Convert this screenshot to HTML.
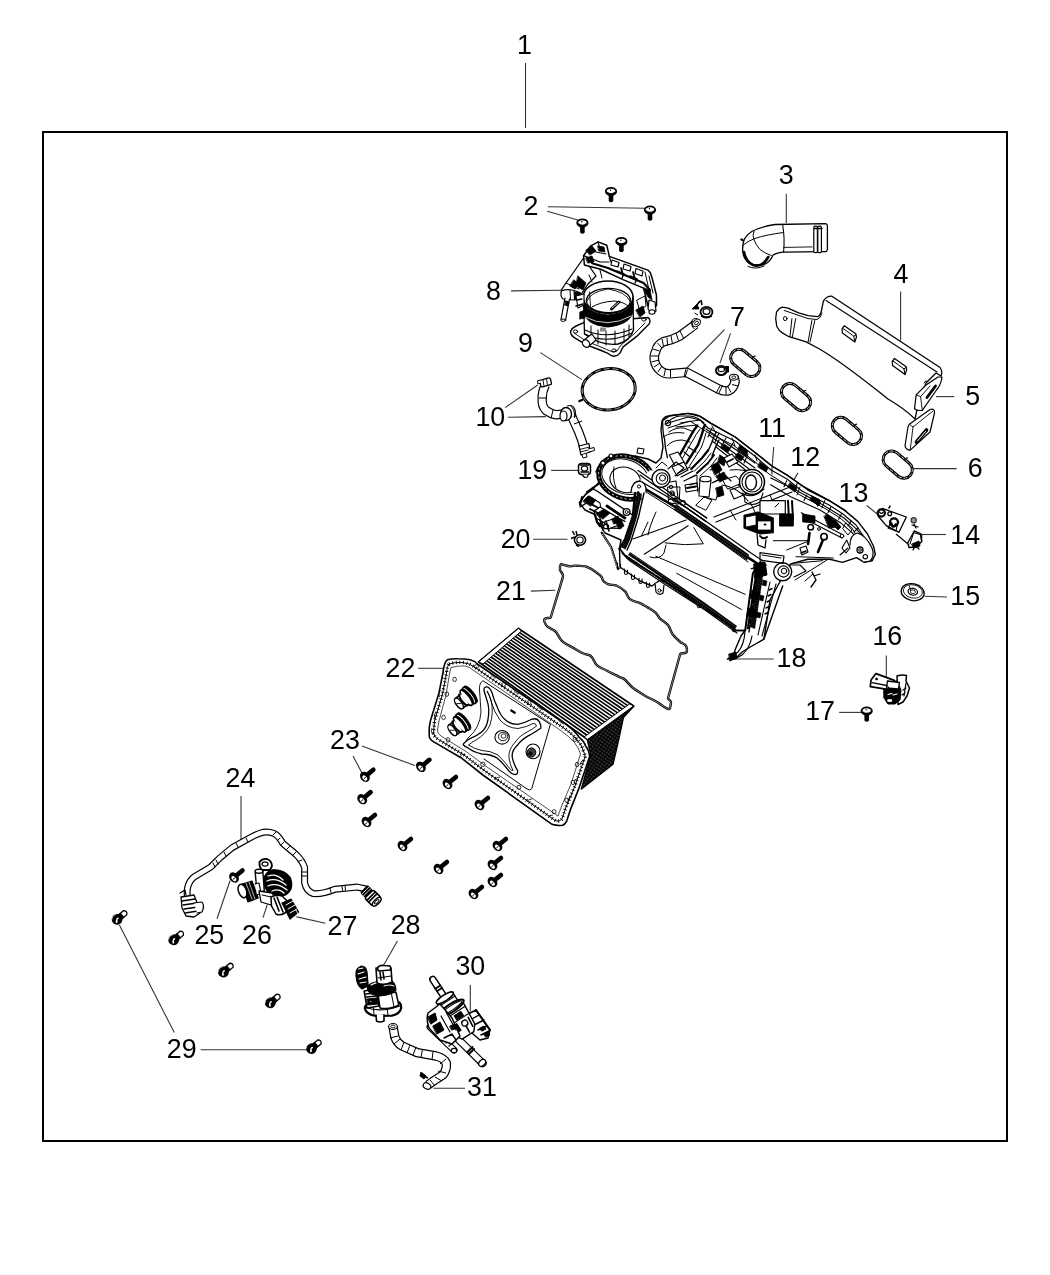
<!DOCTYPE html>
<html><head><meta charset="utf-8"><title>Intake Manifold Diagram</title>
<style>
html,body{margin:0;padding:0;background:#fff;}
body{width:1050px;height:1275px;overflow:hidden;}
svg{display:block;}
g.lbl{filter:grayscale(1);}
text{font-family:"Liberation Sans",sans-serif;font-size:26.8px;fill:#000;}
</style></head><body>
<svg width="1050" height="1275" viewBox="0 0 1050 1275">
<rect x="0" y="0" width="1050" height="1275" fill="#fff"/>
<rect x="43" y="132" width="964" height="1009" fill="none" stroke="#000" stroke-width="2"/>

<g stroke="#333" stroke-width="1.1" fill="none">
<line x1="525.5" y1="63" x2="525.5" y2="128"/>
<line x1="548" y1="206.8" x2="645.6" y2="208.3"/>
<line x1="547.3" y1="211.2" x2="577.8" y2="220"/>
<line x1="786.3" y1="193.8" x2="786.3" y2="222.9"/>
<line x1="900.6" y1="291.4" x2="900.6" y2="340.6"/>
<line x1="936" y1="396.6" x2="954.3" y2="396.6"/>
<line x1="913.1" y1="468.6" x2="956.6" y2="468.6"/>
<line x1="724.5" y1="329.6" x2="686.4" y2="368.5"/>
<line x1="730.6" y1="333.4" x2="719.9" y2="363.1"/>
<line x1="511.1" y1="290.9" x2="561.4" y2="290.3"/>
<line x1="540.4" y1="352.6" x2="581.9" y2="379.6"/>
<line x1="505.2" y1="407.6" x2="537.7" y2="385"/>
<line x1="507.9" y1="417.2" x2="545.8" y2="416.6"/>
<line x1="773.7" y1="447" x2="772.1" y2="468"/>
<line x1="798" y1="472.9" x2="780.2" y2="503.6"/>
<line x1="866.7" y1="505.5" x2="877.5" y2="514.3"/>
<line x1="920.6" y1="534.5" x2="946" y2="534.5"/>
<line x1="924.5" y1="596.3" x2="947" y2="597"/>
<line x1="886.3" y1="655.5" x2="886.3" y2="678"/>
<line x1="839.2" y1="712.4" x2="862.7" y2="712.4"/>
<line x1="728.4" y1="659" x2="773.7" y2="659"/>
<line x1="551.2" y1="470.4" x2="578.3" y2="470.4"/>
<line x1="533.2" y1="539.3" x2="567.5" y2="539.3"/>
<line x1="530.9" y1="591.1" x2="555.3" y2="590.2"/>
<line x1="418.1" y1="668.3" x2="445.5" y2="668.3"/>
<line x1="362" y1="746" x2="415" y2="765.6"/>
<line x1="353" y1="756" x2="362" y2="773"/>
<line x1="241" y1="796" x2="241" y2="840"/>
<line x1="217" y1="918.8" x2="230.1" y2="880.5"/>
<line x1="263" y1="917.7" x2="267.3" y2="904.6"/>
<line x1="325.4" y1="923.2" x2="295.8" y2="916.6"/>
<line x1="397.4" y1="941.1" x2="383.7" y2="965.1"/>
<line x1="200.6" y1="1049.7" x2="306.9" y2="1049.7"/>
<line x1="174.3" y1="1032.6" x2="119.4" y2="925.1"/>
<line x1="470.3" y1="984.9" x2="470.3" y2="1011.4"/>
<line x1="465.1" y1="1088.2" x2="433.4" y2="1088.2"/>
</g>
<g class="lbl" text-anchor="middle">
<text x="524.5" y="54">1</text>
<text x="531" y="215.4">2</text>
<text x="786.3" y="184">3</text>
<text x="901" y="283.4">4</text>
<text x="972.6" y="404.6">5</text>
<text x="975.3" y="476.6">6</text>
<text x="737.4" y="325.8">7</text>
<text x="493.4" y="299.7">8</text>
<text x="525.5" y="351.7">9</text>
<text x="490.3" y="425.6">10</text>
<text x="772.1" y="437.2">11</text>
<text x="805.2" y="466.4">12</text>
<text x="853.5" y="501.6">13</text>
<text x="965.2" y="543.7">14</text>
<text x="965.2" y="604.5">15</text>
<text x="887.3" y="644.7">16</text>
<text x="820.1" y="720.2">17</text>
<text x="791.5" y="667.2">18</text>
<text x="532.3" y="478.9">19</text>
<text x="515.6" y="547.5">20</text>
<text x="511" y="600.3">21</text>
<text x="400.5" y="676.5">22</text>
<text x="345" y="749">23</text>
<text x="240.5" y="787.4">24</text>
<text x="209.3" y="944">25</text>
<text x="256.9" y="944">26</text>
<text x="342.4" y="935.2">27</text>
<text x="405.6" y="934.3">28</text>
<text x="181.7" y="1057.7">29</text>
<text x="470.3" y="975.4">30</text>
<text x="481.9" y="1096.3">31</text>
</g>
<defs>
 <g id="scrV">
  <path d="M-2.3,2 L-2.3,9.5 Q0,12 2.3,9.5 L2.3,2 Z" fill="#000"/>
  <ellipse cx="0" cy="0" rx="5.2" ry="3.6" fill="#fff" stroke="#000" stroke-width="1.8"/>
  <path d="M-4.6,0.8 Q0,4.6 4.6,0.8" fill="none" stroke="#000" stroke-width="1.6"/>
  <circle cx="-0.5" cy="-1.2" r="0.7" fill="#000"/>
 </g>
 <g id="b23">
  <line x1="3" y1="0" x2="11" y2="0" stroke="#000" stroke-width="4.6" stroke-linecap="round"/>
  <ellipse cx="0" cy="0" rx="4.4" ry="5.6" fill="#000"/>
  <ellipse cx="-0.8" cy="0.8" rx="1.9" ry="3" fill="#fff"/>
  <line x1="-2.2" y1="0.8" x2="0.6" y2="0.8" stroke="#000" stroke-width="0.9"/>
 </g>
 <g id="b29">
  <path d="M3,-2.6 L10.5,-2.6 Q13.5,0 10.5,2.6 L3,2.6 Z" fill="#fff" stroke="#000" stroke-width="1.3"/>
  <path d="M3,-3 L7,-3 L7,3 L3,3 Z" fill="#000"/>
  <circle cx="0" cy="0" r="5.4" fill="#000"/>
  <ellipse cx="-1.6" cy="1.2" rx="0.9" ry="2" transform="rotate(40 -1.6 1.2)" fill="#fff"/>
  <ellipse cx="0.8" cy="-0.4" rx="1.4" ry="0.8" fill="#fff"/>
  <path d="M-3.8,-3.2 A5,5 0 0 1 2.5,-4.4" stroke="#fff" stroke-width="0.6" fill="none"/>
 </g>
 <g id="ring6">
  <rect x="-16.5" y="-8.5" width="33" height="17" rx="8.5" ry="8.5" fill="none" stroke="#000" stroke-width="3"/>
  <rect x="-16.5" y="-8.5" width="33" height="17" rx="8.5" ry="8.5" fill="none" stroke="#fff" stroke-width="0.7" stroke-dasharray="4 1.5"/>
  <path d="M2,-10 l1.5,-1.8" stroke="#000" stroke-width="1.2"/>
 </g>
</defs>
<!-- screws 2 -->
<use href="#scrV" x="611" y="191.4"/>
<use href="#scrV" x="650" y="210"/>
<use href="#scrV" x="582.4" y="222.9"/>
<use href="#scrV" x="621.4" y="241.4"/>
<!-- screw 17 -->
<use href="#scrV" x="866.7" y="711"/>
<!-- bolts 23 -->
<g>
<use href="#b23" transform="translate(364.9,776.8) rotate(-40)"/>
<use href="#b23" transform="translate(420.9,766.9) rotate(-40)"/>
<use href="#b23" transform="translate(362.2,799.2) rotate(-40)"/>
<use href="#b23" transform="translate(447.5,784) rotate(-40)"/>
<use href="#b23" transform="translate(366.5,822) rotate(-40)"/>
<use href="#b23" transform="translate(479.5,805) rotate(-40)"/>
<use href="#b23" transform="translate(402.5,846) rotate(-40)"/>
<use href="#b23" transform="translate(497.5,846) rotate(-40)"/>
<use href="#b23" transform="translate(438.5,869) rotate(-40)"/>
<use href="#b23" transform="translate(492.5,865) rotate(-40)"/>
<use href="#b23" transform="translate(492.5,882) rotate(-40)"/>
<use href="#b23" transform="translate(473.5,894) rotate(-40)"/>
</g>
<!-- bolts 29 -->
<use href="#b29" transform="translate(117.1,919.4) rotate(-40)"/>
<use href="#b29" transform="translate(173.7,939.9) rotate(-40)"/>
<use href="#b29" transform="translate(223.4,972) rotate(-40)"/>
<use href="#b29" transform="translate(270.3,1002.9) rotate(-40)"/>
<use href="#b29" transform="translate(311.4,1048.6) rotate(-40)"/>
<!-- rings 6 -->
<use href="#ring6" transform="translate(745.3,362.9) rotate(40)"/>
<use href="#ring6" transform="translate(796,397.1) rotate(40)"/>
<use href="#ring6" transform="translate(846.9,430.9) rotate(40)"/>
<use href="#ring6" transform="translate(897.7,464.6) rotate(40)"/>
<!-- gasket 9 -->
<g transform="translate(608.7,389.3) rotate(-6)">
 <ellipse cx="0" cy="0" rx="26.6" ry="20.6" fill="none" stroke="#000" stroke-width="3"/>
 <ellipse cx="0" cy="0" rx="26.6" ry="20.6" fill="none" stroke="#fff" stroke-width="0.6" stroke-dasharray="6 3"/>
</g>
<path d="M578.5,401.5 l4.5,-2" stroke="#000" stroke-width="2"/>
<!-- washer 15 -->
<g transform="translate(912.7,592.2) rotate(12)">
 <ellipse rx="11.6" ry="8.4" fill="#fff" stroke="#000" stroke-width="1.3"/>
 <ellipse cx="0" cy="-0.8" rx="9.6" ry="6.6" fill="none" stroke="#000" stroke-width="0.8"/>
 <ellipse cx="0" cy="-0.5" rx="4.8" ry="3.4" fill="none" stroke="#000" stroke-width="1.2"/>
 <ellipse cx="0" cy="-0.5" rx="2.6" ry="1.8" fill="none" stroke="#000" stroke-width="0.8"/>
 <path d="M-5,-6 L-2,-1" stroke="#000" stroke-width="0.8"/>
</g>
<!-- gasket 21 -->
<path d="M561.3,564.1 C565,565 567,566.6 570.5,566.4 C573,565.5 574,565.5 576.6,565.7 C580,566 582,565.8 585.7,566.4 C589,568 590.5,568.5 593.3,570.2 C597,573 599,574 601,576.3 C603,579 602.5,580.5 604,581.7 C606,583.5 608,584.5 610.1,584.7 C613,585 614,584.8 616.2,585.5 C620,587 623,589 625.3,591.6 C627.5,594.5 627.5,597.5 629.9,599.2 C632,601 635,601.5 637.5,602.2 C641,603.5 643.5,605 646.7,606.8 C650,609 653,610.5 655.8,612.9 C658,615 658.5,617.5 660.4,619 C663,621 666,622.5 668,625.1 C670.5,628.5 670.5,631.5 672.6,634.2 C675,637.5 678,640 680.2,641.9 C682.5,643.5 685.5,644 686.3,646.4 C687,649 687.5,651.5 686.3,652.5 C684.5,654 681.5,652.5 680.2,654 L668,698.2 C668.5,700 671.5,701 671,702.8 C670.5,705 670.5,708.5 669.5,708.9 C667.5,709.5 666.5,708 665,707.4 C662,705.5 659,703 655.8,701.3 C652.5,699.5 650,698.5 646.7,696.7 C642,694 638.5,691.5 634.5,689.1 C630.5,686.5 628,682.5 625.3,680 C623,678 621.5,678 619.2,676.9 C615,674.5 611,673 607,670.8 C603,668.5 599,667.5 596.4,664.7 C593.5,661.5 593.5,657.5 590.3,655.6 C587.5,654 585,654.5 582.7,653.3 C578.5,651 574.5,648.5 570.5,646.4 C567,644.5 563.5,643 561.3,640.3 C558.5,637 558,633.5 555.2,631.2 C552,628.5 548,628 546.1,625.1 C544.5,622.5 544,619.8 544.6,619 C545.5,617.5 549,618.5 550.7,617.5 L561.3,582.4 C562,579.5 563.5,577 562.9,574.8 C562,572 559.5,571 559.8,568.7 C560,566.5 560,564.5 561.3,564.1 Z" fill="none" stroke="#000" stroke-width="2.4"/>
<path d="M561.3,564.1 C565,565 567,566.6 570.5,566.4 C573,565.5 574,565.5 576.6,565.7 C580,566 582,565.8 585.7,566.4 C589,568 590.5,568.5 593.3,570.2 C597,573 599,574 601,576.3 C603,579 602.5,580.5 604,581.7 C606,583.5 608,584.5 610.1,584.7 C613,585 614,584.8 616.2,585.5 C620,587 623,589 625.3,591.6 C627.5,594.5 627.5,597.5 629.9,599.2 C632,601 635,601.5 637.5,602.2 C641,603.5 643.5,605 646.7,606.8 C650,609 653,610.5 655.8,612.9 C658,615 658.5,617.5 660.4,619 C663,621 666,622.5 668,625.1 C670.5,628.5 670.5,631.5 672.6,634.2 C675,637.5 678,640 680.2,641.9 C682.5,643.5 685.5,644 686.3,646.4 C687,649 687.5,651.5 686.3,652.5 C684.5,654 681.5,652.5 680.2,654 L668,698.2 C668.5,700 671.5,701 671,702.8 C670.5,705 670.5,708.5 669.5,708.9 C667.5,709.5 666.5,708 665,707.4 C662,705.5 659,703 655.8,701.3 C652.5,699.5 650,698.5 646.7,696.7 C642,694 638.5,691.5 634.5,689.1 C630.5,686.5 628,682.5 625.3,680 C623,678 621.5,678 619.2,676.9 C615,674.5 611,673 607,670.8 C603,668.5 599,667.5 596.4,664.7 C593.5,661.5 593.5,657.5 590.3,655.6 C587.5,654 585,654.5 582.7,653.3 C578.5,651 574.5,648.5 570.5,646.4 C567,644.5 563.5,643 561.3,640.3 C558.5,637 558,633.5 555.2,631.2 C552,628.5 548,628 546.1,625.1 C544.5,622.5 544,619.8 544.6,619 C545.5,617.5 549,618.5 550.7,617.5 L561.3,582.4 C562,579.5 563.5,577 562.9,574.8 C562,572 559.5,571 559.8,568.7 C560,566.5 560,564.5 561.3,564.1 Z" fill="none" stroke="#fff" stroke-width="0.5"/>

<!-- intercooler 22 -->
<g stroke="#000" fill="none" stroke-linejoin="round">
 <!-- mesh face -->
 <defs><pattern id="mesh" width="3" height="3" patternUnits="userSpaceOnUse" patternTransform="rotate(35)"><rect width="3" height="3" fill="#111"/><circle cx="1.5" cy="1.5" r="0.75" fill="#fff"/></pattern></defs>
 <path d="M587.3,740 L633.8,706.4 L623.5,717.6 L618.3,741.8 L613.1,764.2 L581.2,789.2 L590.7,754.7 Z" fill="url(#mesh)" stroke-width="1.2"/>
 <!-- fins top face -->
 <path d="M518.5,628.4 L633.7,705.9 L587.6,739.4 L478.7,661.9 Z" fill="#fff" stroke-width="1.8"/>
 <g stroke-width="1.6"><line x1="480.9" y1="660.0" x2="590.2" y2="737.5"/><line x1="483.1" y1="658.2" x2="592.7" y2="735.7"/><line x1="485.3" y1="656.3" x2="595.3" y2="733.8"/><line x1="487.5" y1="654.5" x2="597.8" y2="732.0"/><line x1="489.8" y1="652.6" x2="600.4" y2="730.1"/><line x1="492.0" y1="650.7" x2="603.0" y2="728.2"/><line x1="494.2" y1="648.9" x2="605.5" y2="726.4"/><line x1="496.4" y1="647.0" x2="608.1" y2="724.5"/><line x1="498.6" y1="645.1" x2="610.7" y2="722.6"/><line x1="500.8" y1="643.3" x2="613.2" y2="720.8"/><line x1="503.0" y1="641.4" x2="615.8" y2="718.9"/><line x1="505.2" y1="639.6" x2="618.3" y2="717.1"/><line x1="507.4" y1="637.7" x2="620.9" y2="715.2"/><line x1="509.7" y1="635.8" x2="623.5" y2="713.3"/><line x1="511.9" y1="634.0" x2="626.0" y2="711.5"/><line x1="514.1" y1="632.1" x2="628.6" y2="709.6"/><line x1="516.3" y1="630.3" x2="631.1" y2="707.8"/></g>
 <path d="M518.5,628.4 L478.7,661.9 L483,664 L521.5,631 Z" fill="#fff" stroke-width="1"/>
 <path d="M633.7,705.9 L587.6,739.4 L584,737 L629.5,704 Z" fill="#fff" stroke-width="1"/>
 <!-- flange outline -->
 <path d="M447.2,659.8 Q452,658.6 457.7,658.8 Q465,658.8 470.3,659.8 Q475,661 478.7,665 L566.7,724.8 Q575,731 579.2,737.3 Q584,741 585.5,745.7 Q589,750 589.7,756.2 L579.2,787.6 L570.8,808.6 L566.7,821.1 Q565,824.5 562.5,825.3 Q557,826 552,824.3 L482.9,775 L461.9,758.3 L436.8,743.6 Q431,741 429.4,737.3 Q428.5,728 430.5,720.6 L438.9,693.3 L443,672.4 Q444,662.5 447.2,659.8 Z" fill="#fff" stroke-width="1.6"/>
 <path d="M449,664 Q455,662 462,662.5 Q470,663 475,667.5 L563,727.5 Q573,734 577,740 Q582,745 583,750 Q585,754 585,757 L575,786 L566,807 L562,819 Q560,821.5 556,821 L485,771 L464,755 L438.5,739.5 Q434,737 433.5,733 L434.5,721 L442.5,694 L446.5,673 Q447,666 449,664 Z" stroke-width="3.4" stroke-dasharray="0.9 2.6"/>
 <path d="M449,664 Q455,662 462,662.5 Q470,663 475,667.5 L563,727.5 Q573,734 577,740 Q582,745 583,750 Q585,754 585,757 L575,786 L566,807 L562,819 Q560,821.5 556,821 L485,771 L464,755 L438.5,739.5 Q434,737 433.5,733 L434.5,721 L442.5,694 L446.5,673 Q447,666 449,664 Z" stroke-width="1"/>
 <path d="M451,667.5 Q458,665.5 465,666 Q470,667 473,670 L560,730 Q570,737 574,742 Q579,748 580.5,754 L571,784 L562,805 L558,816 L487,767 L466,751.5 L441,736 Q437,733.5 437.5,730 L439,721 L446,695 L449.5,674 Z" stroke-width="0.7"/>
</g>
<!-- intercooler flange details -->
<g stroke="#000" fill="none" stroke-linejoin="round">
 <!-- plate -->
 <path d="M482.9,680.7 L550.4,724.4 L531.7,788.7 Q530,791 527,789 L483.6,758.7" stroke-width="1"/>
 <path d="M482.9,680.7 Q479,683 479.5,690 L481,712 Q480,728 468,738 L463.6,745" stroke-width="0.9"/>
 <!-- star -->
 <path d="M485.4,687.1 Q489,686 491.9,692.3 Q494,700 497,706.4 Q500,715 504.7,719.3 Q510,724.5 517.6,724.4 Q525,723 531.7,719.3 Q537,717.5 539.4,721.9 Q541.5,726 540.7,728.3 Q536,731.5 530.4,734.7 Q522,739 517.6,745 Q511,751 512.4,757.9 Q514,765 517.6,770.7 Q518,774.5 515,774.6 Q511,774 508.6,770.7 Q503,763 497,757.9 Q490,754 481.6,754 Q473,752 467.4,747.6 Q462,745 463.6,743.7 Q466,740.5 470,738.6 Q477,736 481.6,732.1 Q487,727 488,719.3 Q489.5,711 488,703.9 Q486,697 484.1,691 Q483.5,687.5 485.4,687.1 Z" fill="#fff" stroke-width="1.3"/>
 <path d="M487,691 Q490,695 491,701 Q494,712 500,720 Q507,728 518,728.5 Q527,727 533,723.5 Q536,723 536.5,726 Q533,729 528,731.5 Q519,736 514.5,743 Q508,750 509,758 Q510,765 513,770.5 Q512,771 510.5,769.5 Q505,762 498,755 Q490,750.5 482,750.5 Q474,749 468.5,745 Q472,742 476,740 Q486,734 490,725 Q494,712 491,700 Z" stroke-width="0.9"/>
 <ellipse cx="502.1" cy="737.3" rx="7.2" ry="6.8" stroke-width="1.1" fill="#fff"/>
 <ellipse cx="503" cy="736.5" rx="4.6" ry="4.3" stroke-width="0.9"/>
 <ellipse cx="503.5" cy="736" rx="2.4" ry="2.2" stroke-width="0.8"/>
 <path d="M510.5,710 l5,3.2" stroke-width="2.2"/>
 <!-- right port -->
 <ellipse cx="533" cy="751.4" rx="7" ry="7.4" fill="#fff" stroke-width="1.1"/>
 <ellipse cx="531.5" cy="752.5" rx="4.3" ry="4.6" fill="#444" stroke-width="1"/>
 <circle cx="530.5" cy="753.5" r="1.6" fill="#000"/>
 <!-- holes -->
 <g stroke-width="0.8">
  <ellipse cx="454.6" cy="679.4" rx="1.8" ry="2.2"/>
  <ellipse cx="446.9" cy="694.2" rx="1.8" ry="2.2"/>
  <ellipse cx="443.6" cy="717.4" rx="1.8" ry="2.2"/>
  <ellipse cx="448.1" cy="739.9" rx="1.8" ry="2.2"/>
  <ellipse cx="482.9" cy="764.3" rx="2.2" ry="2.2"/>
  <ellipse cx="476.4" cy="666.6" rx="2" ry="2"/>
  <ellipse cx="503.4" cy="684.6" rx="2" ry="2"/>
  <ellipse cx="529.1" cy="702.6" rx="2" ry="2"/>
  <ellipse cx="518.9" cy="787.4" rx="2" ry="2"/>
  <ellipse cx="554.1" cy="811.7" rx="2" ry="2"/>
  <ellipse cx="577.1" cy="764.6" rx="1.8" ry="2.2"/>
  <ellipse cx="573" cy="782.4" rx="1.8" ry="2.2"/>
  <ellipse cx="566.7" cy="800.2" rx="1.8" ry="2.2"/>
  <ellipse cx="575" cy="739.4" rx="2" ry="2"/>
 </g>
 <!-- border bumps -->
 <g stroke-width="0.8">
  <path d="M444,672 q-3,3 -1,7 M440.5,690 q-3,3 -1,7 M436,712 q-3,3 -1,7 M432,728 q-2,4 1,7"/>
  <path d="M490,673 q2,4 6,5 M513,689 q2,4 6,5 M537,705 q2,4 6,5 M558,719 q2,4 6,5"/>
  <path d="M460,757 q1,-3 5,-3 M495,780 q1,-3 5,-3 M527,802 q1,-3 5,-3 M548,818 q1,-3 5,-3"/>
  <path d="M584,760 q-4,1 -4,5 M578,778 q-4,1 -4,5 M572,796 q-4,1 -4,5"/>
 </g>
 <!-- port 1 -->
 <g transform="translate(465.6,698.3) rotate(-38)">
  <ellipse cx="6.5" cy="0" rx="3.2" ry="10.2" fill="#000" stroke-width="1"/>
  <ellipse cx="4.6" cy="0" rx="3.2" ry="10" fill="#fff" stroke-width="1.6"/>
  <ellipse cx="2.4" cy="0" rx="3.1" ry="9.6" fill="#000" stroke-width="1"/>
  <ellipse cx="0.8" cy="0" rx="3" ry="9.3" fill="#fff" stroke-width="1.6"/>
  <path d="M-8.5,-6.3 L-1,-6.3 L-1,6.3 L-8.5,6.3 Z" fill="#fff" stroke="none"/>
  <path d="M-8.5,-6.3 L-1.5,-6.3 M-8.5,6.3 L-1.5,6.3" stroke-width="1.3"/>
  <path d="M-2,-7 A2.6,7 0 0 0 -2,7" stroke-width="2"/>
  <path d="M-4.8,-6.3 A2.4,6.3 0 0 0 -4.8,6.3" stroke-width="1.1"/>
  <ellipse cx="-8.5" cy="0" rx="2.8" ry="6.3" fill="#fff" stroke-width="1.4"/>
  <path d="M-10.5,-1.5 L-6.5,1.5" stroke-width="0.8"/>
 </g>
 <!-- port 2 -->
 <g transform="translate(459,725) rotate(-38)">
  <ellipse cx="6.5" cy="0" rx="3.2" ry="10.2" fill="#000" stroke-width="1"/>
  <ellipse cx="4.6" cy="0" rx="3.2" ry="10" fill="#fff" stroke-width="1.6"/>
  <ellipse cx="2.4" cy="0" rx="3.1" ry="9.6" fill="#000" stroke-width="1"/>
  <ellipse cx="0.8" cy="0" rx="3" ry="9.3" fill="#fff" stroke-width="1.6"/>
  <path d="M-8.5,-6.3 L-1,-6.3 L-1,6.3 L-8.5,6.3 Z" fill="#fff" stroke="none"/>
  <path d="M-8.5,-6.3 L-1.5,-6.3 M-8.5,6.3 L-1.5,6.3" stroke-width="1.3"/>
  <path d="M-2,-7 A2.6,7 0 0 0 -2,7" stroke-width="2"/>
  <path d="M-4.8,-6.3 A2.4,6.3 0 0 0 -4.8,6.3" stroke-width="1.1"/>
  <ellipse cx="-8.5" cy="0" rx="2.8" ry="6.3" fill="#fff" stroke-width="1.4"/>
  <path d="M-10.5,-1.5 L-6.5,1.5" stroke-width="0.8"/>
 </g>
</g>
<!-- hose 3 -->
<g stroke="#000" fill="none" stroke-linejoin="round" stroke-linecap="round">
 <path d="M775,224.5 L825.5,223.6 Q827.4,224 827.4,226 L827.4,249.5 Q827,251.7 825.5,251.7 L782.6,252.1 Q776,253 773.1,255 Q770,262 764.5,264.5 Q757,267 748.3,262.6 Q743,258 742.6,250 Q742.6,243 744.5,238.8 Q748,233.5 752.1,231.2 Q760,227 775,224.5 Z" fill="#fff" stroke-width="1.3"/>
 <path d="M782.6,224.5 Q785,238 783.6,252.1" stroke-width="1.1"/>
 <path d="M742.6,245.5 Q748,241 754,238.8 Q762,236 768.3,235 Q776,233.5 782.6,232.6" stroke-width="1"/>
 <path d="M754,231.2 Q752,236 754,239.8 Q756,245 759.8,249.3 Q765,253.5 771.2,255.5" stroke-width="1"/>
 <path d="M783.6,247.4 L812.1,246.9" stroke-width="0.9"/>
 <path d="M744,252 Q746,262 753,265 Q762,268 768.3,257" stroke-width="2.6"/>
 <path d="M748,266.5 Q756,270 764,266" stroke-width="1"/>
 <rect x="813.8" y="226.2" width="3.6" height="26.5" rx="1.2" fill="#fff" stroke-width="1.2"/>
 <rect x="817.8" y="226.2" width="3.6" height="26.5" rx="1.2" fill="#fff" stroke-width="1.2"/>
 <path d="M814.5,228.5 L822,228.5" stroke-width="1.6"/>
 <path d="M741.3,239.3 l1.5,1" stroke-width="2"/>
</g>
<!-- bracket 4 -->
<g stroke="#000" fill="none" stroke-linejoin="round" stroke-linecap="round">
 <path d="M782.4,307.1 Q779,308 776.5,312 L775.7,318.6 L776.7,326.2 Q779,331 782.4,332.9 L789,336.7 L806.2,341.9 L819.5,349 C845,364 870,385 888,399 C900,406 908,412 915,419 L918,405 L926,383 L936,373 L941,376 Q943,372 940,367.5 L831.9,296.2 Q826,296 823.3,301.4 L821.4,311 Q820,316 817.6,316.7 L808.1,315.7 L798.6,312.9 L788.1,308.1 Z" fill="#fff" stroke-width="1.3"/>
 <path d="M826,300.5 L937,372" stroke-width="1.1"/>
 <path d="M784.3,310.5 L808.1,318.6 L817,319.5 Q821,318 822,313" stroke-width="1"/>
 <path d="M791.9,318.6 L790,336.7 M795.7,318.6 L792.4,336.7 M811.9,320.5 L808.1,341.9 M814.8,320.5 L810,341.9" stroke-width="1"/>
 <ellipse cx="785.2" cy="318.6" rx="1.8" ry="2.1" stroke-width="1"/>
 <path d="M844.3,325.7 L855.7,333.8 L856.5,337.0 L854.8,341.9 L842.4,332.9 L842.0,329.0 Z" fill="#fff" stroke-width="1.2"/>
 <path d="M842.6,328.2 L853.8,336.2 L854.8,341.9 M853.8,336.2 L856.3,334.5" stroke-width="1"/>
 <path d="M894.5,358.4 L905.9,366.5 L906.7,369.7 L905.0,374.6 L892.6,365.6 L892.2,361.7 Z" fill="#fff" stroke-width="1.2"/>
 <path d="M892.8,360.9 L904.0,368.9 L905.0,374.6 M904.0,368.9 L906.5,367.2" stroke-width="1"/>
 <!-- upper tab -->
 <path d="M916.2,394.9 L926,385 L938,377 L942,377 Q941,385 936.5,390 L922.3,410.4 Q917,411 914.5,408.7 Z" fill="#fff" stroke-width="1.2"/>
 <path d="M916.2,394.9 L920.6,396.6 L922.3,410.4 M920.6,396.6 L930,386" stroke-width="0.9"/>
 <path d="M927,397.5 L935.5,386" stroke-width="2.8"/>
 <path d="M924,383 q1,-3 3,-2" stroke-width="1"/>
 <!-- lower tab -->
 <path d="M909.3,424.2 L930,409.5 Q935,408 934.5,413 L930,432 L910.2,450.1 Q906,450 905,445.8 L908,427 Z" fill="#fff" stroke-width="1.2"/>
 <path d="M909.3,424.2 L913,427 L933,411 M913,427 L910.2,450.1" stroke-width="0.9"/>
 <path d="M916.5,442 L926.5,430" stroke-width="3.6"/>
 <path d="M917.5,441 L925.5,431.5" stroke="#fff" stroke-width="1"/>
</g>
<!-- hose 7 -->
<g fill="none" stroke-linejoin="round" stroke-linecap="butt">
 <path id="h7" d="M695.5,324.3 Q688,330 680.3,335.7 Q672,340 663.5,341.8 Q657,345 655.9,351 Q653.5,356 654.4,360 Q655.5,367 660.5,370.8 Q664,374 669.6,373.8 L686.4,372.3 L718.4,389 Q724,392 729,390.6 Q734,388 735.1,381.4 L734,377" stroke="#000" stroke-width="9.6"/>
 <path d="M695.5,324.3 Q688,330 680.3,335.7 Q672,340 663.5,341.8 Q657,345 655.9,351 Q653.5,356 654.4,360 Q655.5,367 660.5,370.8 Q664,374 669.6,373.8 L686.4,372.3 L718.4,389 Q724,392 729,390.6 Q734,388 735.1,381.4 L734,377" stroke="#fff" stroke-width="7.2"/>
 <g stroke="#000" stroke-width="1">
  <path d="M680,331 l3.5,7 M676,333 l2.5,7.5 M671,336 l1.5,8 M667,337.5 l0.5,8 M662,339 l1.5,7.5 M657.5,343 l4.5,5 M653,349 l6.5,2 M651,356 l7.5,0 M651.5,362 l7.5,-2 M654,367 l6,-4 M658,372 l4,-6 M664,376 l1.5,-7 M670.5,377.5 l0,-8 M684,377 l2,-8.5 M685,377.5 l2.5,-8"/>
  <path d="M716,393.5 l4.5,-8.5 M718.5,394 l4,-8.5 M726,395 l0,-8.5 M731,392.5 l-3.5,-6.5 M738,386 l-6,-1.5"/>
  <path d="M698,315 l-3.5,-2 M699.5,320 a3,4 -35 1,0 -5,9" />
 </g>
 <ellipse cx="696.5" cy="323" rx="4.5" ry="3.2" transform="rotate(-40 696.5 323)" fill="#fff" stroke="#000" stroke-width="1.1"/>
 <ellipse cx="696.5" cy="323" rx="2.2" ry="1.5" transform="rotate(-40 696.5 323)" stroke="#000" stroke-width="0.9"/>
 <ellipse cx="733.8" cy="377.2" rx="4.4" ry="3" fill="#fff" stroke="#000" stroke-width="1.1"/>
 <ellipse cx="733.8" cy="377.2" rx="2" ry="1.3" stroke="#000" stroke-width="0.9"/>
</g>
<!-- clamps near hose 7 -->
<g stroke="#000" fill="#fff" stroke-linejoin="round">
 <path d="M697,305 l3,-4 M701,300 l1,5" stroke-width="1.6" fill="none"/>
 <ellipse cx="706.5" cy="312" rx="6" ry="5.2" stroke-width="1.8"/>
 <ellipse cx="706.5" cy="311.5" rx="3.4" ry="2.8" stroke-width="1.3"/>
 <path d="M692,309 l7,0 l-2,-5 z" fill="#000" stroke-width="0.8"/>
 <path d="M701,316 Q706,319.5 712,316" fill="none" stroke-width="1.4"/>
 <ellipse cx="721.3" cy="370.5" rx="5.4" ry="4.6" stroke-width="1.8"/>
 <ellipse cx="721.3" cy="369.5" rx="3.2" ry="2.2" stroke-width="1.1"/>
 <path d="M716.5,372 Q721,378 726,372" stroke-width="1.4" fill="none"/>
 <path d="M725.5,366.5 l3,0 l0,5.5 l-3,0" stroke-width="1" fill="#000"/>
</g>
<!-- hose 10 -->
<g fill="none" stroke-linejoin="round">
 <path d="M545.3,385 Q542,392 542.2,398 Q541.5,406 546,410.5 Q551.2,414 556,414.8 L563,414" stroke="#000" stroke-width="9.4"/>
 <path d="M545.3,385 Q542,392 542.2,398 Q541.5,406 546,410.5 Q551.2,414 556,414.8 L563,414" stroke="#fff" stroke-width="7"/>
 <path d="M572,417 Q575,424 578.3,431 Q582,440 583.7,447" stroke="#000" stroke-width="9.4"/>
 <path d="M572,417 Q575,424 578.3,431 Q582,440 583.7,447" stroke="#fff" stroke-width="7"/>
 <g stroke="#000" stroke-width="1">
  <path d="M553,410 l-2,8.5 M539,398 l7.5,0 M574,424 l8,-3"/>
 </g>
 <!-- top connector -->
 <rect x="540" y="379" width="11" height="7" rx="1.5" transform="rotate(-15 545 382)" fill="#fff" stroke="#000" stroke-width="1.3"/>
 <path d="M540.5,380 l-3,0.8 l0.4,3 l3,-0.5" fill="#fff" stroke="#000" stroke-width="1"/>
 <path d="M543,379.5 l1,7 M546.5,378.5 l1,7" stroke="#000" stroke-width="0.9"/>
 <!-- mid connector -->
 <ellipse cx="566" cy="414" rx="5.5" ry="6.5" fill="#fff" stroke="#000" stroke-width="1.4"/>
 <ellipse cx="563.5" cy="416" rx="3.5" ry="5" fill="#fff" stroke="#000" stroke-width="1.2"/>
 <path d="M567,406 Q573,404 575,410 L576,417" stroke="#000" stroke-width="1.2"/>
 <path d="M570.5,406 Q575,409 574.5,418" stroke="#000" stroke-width="1"/>
 <!-- bottom connector -->
 <path d="M579,446 L589,443.5 L590,452 L581,455 Z" fill="#fff" stroke="#000" stroke-width="1.2"/>
 <path d="M579.5,449.5 L589.5,447 M580,452 L590,449.5" stroke="#000" stroke-width="0.9"/>
 <path d="M588,449 l6,-1.5 l0.5,3 l-6,1.5" fill="#fff" stroke="#000" stroke-width="1"/>
 <path d="M582,455 l1,3 l4,-1 l-0.5,-3" fill="#fff" stroke="#000" stroke-width="1"/>
</g>
<!-- clamps 19, 20 -->
<g stroke="#000" fill="#fff" stroke-linejoin="round">
 <rect x="578.5" y="463.5" width="12" height="11" rx="3" stroke-width="1.5"/>
 <path d="M580,465 L589,465 M580.5,472 L589,472" stroke-width="1.5"/>
 <ellipse cx="584.5" cy="468.5" rx="3.2" ry="2.5" stroke-width="1.2"/>
 <path d="M582,474.5 l2.5,3 l3,-0.5 l0.5,-2.5" stroke-width="1.2"/>
 <ellipse cx="580" cy="540" rx="5.6" ry="5.2" stroke-width="1.6"/>
 <ellipse cx="580" cy="540" rx="3.2" ry="3" stroke-width="1.1"/>
 <path d="M574.5,535 l-2,-4 M571,538.5 l4,-1.5 M576,531 l1,4" stroke-width="1.5" fill="none"/>
 <path d="M576,545 l3,1.5" stroke-width="1.5" fill="none"/>
</g>
<!-- throttle body 8 -->
<g stroke="#000" fill="none" stroke-linejoin="round" stroke-linecap="round">
 <!-- flange -->
 <path d="M570.7,331.1 Q572,328 576,326 L583.3,322.8 L648.2,317.5 Q651,320 649.3,323.8 L636.7,336.4 L623.1,346.9 Q621,351 620,353.1 Q617,356.5 613.7,356.3 Q610,355.5 607.4,353.1 L600,350 L586.4,344.8 L573.9,337.4 Q570,334 570.7,331.1 Z" fill="#fff" stroke-width="1.4"/>
 <path d="M574,333 L586,341 L601,347 L609,350.5 Q613,353 617,351 L621,345 L634,334 L645,323" stroke-width="0.9"/>
 <ellipse cx="575.5" cy="331.5" rx="2.2" ry="1.6" stroke-width="1"/>
 <ellipse cx="614" cy="350.5" rx="2.2" ry="1.6" stroke-width="1"/>
 <ellipse cx="644" cy="319.5" rx="2.2" ry="1.6" stroke-width="1"/>
 <!-- body cylinder -->
 <path d="M583.5,297 L584.5,334 Q600,346 618,344 Q630,341 633.5,330 L633,297 Z" fill="#fff" stroke-width="1.3"/>
 <path d="M591,326 L591,340 M598,330 L598,344 M606,331 L606,345 M615,331 L615,344 M624,329 L624,341 M629,325 L629,337" stroke-width="1"/>
 <path d="M585,330 Q606,340 632,329" stroke-width="1.2"/>
 <path d="M585,334 Q606,345 632,333" stroke-width="1.2"/>
 <rect x="600" y="327.5" width="6" height="4" fill="#888" stroke="none"/>
 <!-- dark band -->
 <path d="M583.3,297 Q584,313 608,315 Q632,313 633,297 L633,309 Q633,324 608,327 Q584,325 583.6,310 Z" fill="#000" stroke-width="1"/>
 <path d="M585,317 Q608,329 631,316" stroke="#fff" stroke-width="0.8"/>
 <!-- rim -->
 <ellipse cx="608.1" cy="297.1" rx="24.9" ry="16.2" fill="#fff" stroke-width="1.5"/>
 <ellipse cx="608.4" cy="300.5" rx="22" ry="12.2" fill="#fff" stroke-width="1.3"/>
 <path d="M587,301 Q590,292 608,289 Q626,292 630,301" stroke-width="0.9"/>
 <path d="M592,307 Q600,302 614,301 Q624,302 628,306" stroke-width="1"/>
 <path d="M611.5,309 L619,302" stroke-width="3"/>
 <path d="M612,308 L618.5,302.5" stroke="#fff" stroke-width="0.8"/>
 <path d="M589.5,292 L590.5,306" stroke-width="0.9"/>
 <!-- actuator housing -->
 <path d="M583.6,258 L566,283 L561.3,290 L580,296 L588,284 L596,276 Z" fill="#fff" stroke-width="1.3"/>
 <path d="M584.4,265 L583.6,255.6 L590.4,246.1 L598.1,241.9 L606.7,245.3 L608.4,252.1 L609.3,256.4 L647.9,270.1 L650.4,272.7 L652.1,277.9 L656.4,295 L656.6,305 L652,313 L648,306 L643.6,288.1 L623,279.6 L600.7,269.3 Z" fill="#fff" stroke-width="1.5"/>
 <path d="M592.1,263.3 L608,268 L643.6,283 L650,290" stroke-width="2.2"/>
 <path d="M609.3,256.4 L611,262 M583.6,255.6 L600,262 L609,262" stroke-width="1.2"/>
 <path d="M590.4,246.1 L596,252 L606,254 M598.1,241.9 L600,250" stroke-width="1.1"/>
 <path d="M586,250 L592,246 L596,251 L590,255 Z M598,246 L604,247 L605,252 L599,251 Z" fill="#000" stroke-width="0.8"/>
 <path d="M586,258 L592,256 L594,262 L588,263 Z" fill="#000" stroke-width="0.8"/>
 <path d="M612,260 L619,262.5 L618,267 L611,265 Z M624,264 L631,266.5 L630,271 L623,269 Z M636,268.5 L643,271 L642,276 L635,273.5 Z" fill="#fff" stroke-width="1.2"/>
 <path d="M617,271 L624,274 L622,278 M630,276 L637,279 L635,283" stroke-width="1.4"/>
 <path d="M621,268 L623,275 M633,272 L635,279" stroke-width="1.8"/>
 <path d="M645,272 L649,290 M649,276 L653,293" stroke-width="1"/>
 <path d="M643,288 L648,297 L652,300 L650,290 Z" fill="#000" stroke-width="0.8"/>
 <path d="M600,270 L602,278 M589,275 L592,282" stroke-width="1"/>
 <path d="M574,280 L579,284 L575,289 L570,286 Z" fill="#000" stroke-width="0.8"/>
 <path d="M566,283 L579,289" stroke-width="1"/>
 <!-- right tubes -->
 <path d="M649,300 L655,302 L656,311 L651,313 L648,309 Z" fill="#fff" stroke-width="1.2"/>
 <ellipse cx="652" cy="312" rx="3" ry="2.2" fill="#fff" stroke-width="1.1"/>
 <path d="M637,300 L645,296 L646,306 L640,310 Z" fill="#fff" stroke-width="1"/>
 <path d="M636,310 L643,306 L645,313 L640,317 Z" fill="#000" stroke-width="0.8"/>
 <!-- left sensor -->
 <path d="M561.3,291 Q566,289 572,290 L580.1,292.5 L580.5,299.5 L572,300 L563,299 Q560,296 561.3,291 Z" fill="#fff" stroke-width="1.2"/>
 <path d="M570,290 L570.5,299.5 M574,291 L574.5,300" stroke-width="1"/>
 <path d="M575,292 L580,293 L580,299 L575,299.5 Z" fill="#000"/>
 <path d="M565,298 L561,319.5 L565.5,320.5 L569.5,299" fill="#fff" stroke-width="1.2"/>
 <ellipse cx="563.2" cy="320.2" rx="2.4" ry="1.2" fill="#fff" stroke-width="1"/>
 <path d="M566,301 L569,302 L568,306 L565,305 Z" fill="#000"/>
 <path d="M578,276 L586,283 L583,290 L576,286 Z" fill="#000" stroke-width="0.8"/>
 <path d="M576,296 L584,294 L584,305 L578,308 Z" fill="#fff" stroke-width="1.1"/>
 <path d="M577,300 L582,299 M576,306 L583,304" stroke-width="1.4"/>
 <path d="M580,312 L585,310 L585,318 L580,319 Z" fill="#000" stroke-width="0.8"/>
 <!-- pipe stub -->
 <path d="M584,340 L592,334 L596,340 L588,347 Z" fill="#fff" stroke-width="1.2"/>
 <ellipse cx="586" cy="343.5" rx="3.3" ry="4" fill="#fff" stroke-width="1.2" transform="rotate(-35 586 343.5)"/>
</g>
<!-- manifold 11 -->
<g stroke="#000" fill="none" stroke-linejoin="round" stroke-linecap="round">
 <!-- silhouette -->
 <path d="M579.5,502.9 L585,495 L593,489 L600,481 L603,470 L609,461 L620,457 L635,456 L648,459 L656,463 L661,458 L663,447 L661,430 L662,421 L670,415.7 L688,413.4 L700,416.4 L711,423.3 L735,437 L757,454 L772,466 L787,475 L808,490 L830,501 L845,510.6 L858,521.6 L867.5,534 L873.7,546.7 L875.3,554.5 L872.2,560.8 L864.3,562.4 L856.5,557.6 L842.4,562.4 L829.8,559.2 L807.8,559.2 L790.6,563.9 L782,578 L770,600 L763.9,639.2 L752,646 L742,652 L738,656 L733,659 L735,650 L741,636 L745,630.5 L735.7,630.5 L703.3,605.7 L661.4,579 L652,586 L640,581 L620,567 L619.5,548.6 L621,540 L605,533 L600,525 L596,515 L585,510 Z" fill="#fff" stroke-width="1.4"/>
 <!-- runner housing top double edge -->
 <path d="M662.2,421 Q664,416 670,415.7 L688,413.4 Q696,414 700.3,416.4 L711,423.3 L735.3,437 L756.7,453.8 L771.9,466 L787.1,475.1 L802.4,485.8 L830,501 L845.5,510.6" stroke-width="1.4"/>
 <path d="M665,424 L688,417 L700,420 L708,428 L735,441 L756,457 L771,470 L787,479 L802,491 L829,505 L843,514 L856,525 L864,537 L869,548" stroke-width="1.1"/>
 <path d="M668,428 L690,421 L707,432 L733,445 L754,461 L769,474 L785,484 L800,495 L826,509 L840,518 L852,528 L859,540" stroke-width="1"/>
 <path d="M712,426 L716,433 M732,438 L735,446 M755,455 L757,461 M772,467 L772,474 M800,487 L797,495 M825,500 L822,508" stroke-width="1"/>
 <path d="M740,445 L748,451 L746,456 L738,450 Z M760,462 L768,468 L766,472 L758,467 Z M790,483 L797,488 L795,492 L788,487 Z M812,496 L820,500 L818,505 L810,500 Z" fill="#000" stroke-width="0.8"/>
 <!-- runners -->
 <path d="M662.6,421 Q663,436 664.5,438.6 Q665,448 667.4,457.6" stroke-width="1.3"/>
 <path d="M667,423 Q672,417 680,416 L690,416 Q698,417 704,423" stroke-width="1.1"/>
 <circle cx="668" cy="423" r="2.6" stroke-width="1.1"/>
 <path d="M669,432 Q676,427 684,428 L694,432 M667,446 Q672,440 682,440 L690,442" stroke-width="1"/>
 <path d="M678.8,456.7 L690,437 Q693,431 697,426" stroke-width="2.4"/>
 <path d="M682,459 L693,440 Q696,434 700,429" stroke-width="1"/>
 <path d="M686.4,463.3 L698,445 Q701,437 702.6,432 Q703,428 705,425" stroke-width="2.4"/>
 <path d="M689.5,466 L701,448 Q704,441 706,433" stroke-width="1"/>
 <path d="M691.2,469 L702,458 L708.3,450" stroke-width="2.2"/>
 <path d="M694.5,471 L705,461 L711,453" stroke-width="1"/>
 <path d="M697,473 L708,463 L714,455" stroke-width="2"/>
 <path d="M700,476 L711,466 L717,458" stroke-width="1"/>
 <path d="M708,451 L712,442 Q714,436 716,432 M712,456 L716,446 L719,440" stroke-width="1.4"/>
 <!-- dense rails right of runners -->
 <path d="M706,429 L755,463" stroke-width="1.3"/>
 <path d="M709,435 L755,468" stroke-width="1.1"/>
 <path d="M712,441 L753,472" stroke-width="1.1"/>
 <path d="M716,447 L748,472" stroke-width="1.1"/>
 <path d="M712,428 L708,437 M719,433 L715,442 M726,438 L721,447 M733,443 L728,452 M741,449 L736,458 M748,454 L744,463" stroke-width="1.1"/>
 <path d="M724,444 L730,448 L727,452 L721,448 Z M738,453 L744,457 L741,461 L735,457 Z" fill="#000" stroke-width="0.8"/>
 <path d="M720,455 L726,459 L724,466 L718,462 Z" fill="#000" stroke-width="0.8"/>
 <!-- boxes lower left of runners -->
 <path d="M669.3,455 L678,452 L684,462 L675,466 Z" fill="#fff" stroke-width="1.1"/>
 <path d="M672,467 L684,462 L688,470 L677,476 Z" fill="#fff" stroke-width="1.1"/>
 <path d="M678,473 L690,467 M681,477 L693,471 M684,481 L696,475" stroke-width="1.2"/>
 <path d="M690,478 L697,475 L697,483" stroke-width="1"/>
 <path d="M656,468 L662,462 L667,466" stroke-width="1"/>
 <!-- extra density runner area -->
 <path d="M711,466 L718,462 L722,470 L715,475 Z" fill="#000" stroke-width="0.8"/>
 <path d="M716,476 L724,472 L727,478 L720,482 Z" fill="#000" stroke-width="0.8"/>
 <path d="M724,458 L732,454 L738,462 L729,467 Z" fill="#fff" stroke-width="1.1"/>
 <path d="M727,462 l6,-3" stroke-width="1.8"/>
 <path d="M680,423 L700,420 M676,427 L698,425" stroke-width="1"/>
 <path d="M688,447 L696,452 M684,452 L690,457" stroke-width="1.2"/>
 <path d="M712,483 Q720,478 730,480 L740,486" stroke-width="1.1"/>
 <path d="M685,485 L697,483 L698,490 L686,492 Z" fill="#fff" stroke-width="1.1"/>
 <path d="M687,488 L696,486.5" stroke-width="1.8"/>
 <path d="M716,488 L722,486 L724,495 L718,497 Z" fill="#000" stroke-width="0.8"/>
 <path d="M730,490 L742,486 L746,494 L734,499 Z" stroke-width="1.1"/>
 <path d="M663,437 Q672,431 684,433" stroke-width="1"/>
 <!-- bar 1 and extra structure -->
 <path d="M638,470.5 L706.7,518 M640,475 L706,521.5" stroke-width="1.2"/>
 <path d="M714,517 L790,487 M716,522 L792,492" stroke-width="1.1"/>
 <path d="M730,510 L736,520 M750,502 L755,512 M770,495 L774,505" stroke-width="1"/>
 <circle cx="668" cy="487" r="2" stroke-width="1"/>
 <circle cx="672" cy="494" r="2" stroke-width="1"/>
 <path d="M664,483 L676,481 L678,498 L667,500 Z" fill="#fff" stroke-width="1.1"/>
 <circle cx="671" cy="487" r="1.8" stroke-width="1"/>
 <circle cx="672.5" cy="494" r="1.8" stroke-width="1"/>
 <circle cx="683" cy="503" r="2.4" fill="#fff" stroke-width="1.1"/>
 <path d="M696,505 L704,497 L712,500 L706,510 Z" stroke-width="1"/>
 <path d="M710,470 L718,468 L720,476" stroke-width="1.1"/>
 <path d="M730,470 Q745,468 760,476" stroke-width="1"/>
 <path d="M723,480 L736,476 L742,483 L728,489 Z" fill="#fff" stroke-width="1"/>
 <!-- throttle flange ring -->
 <g transform="translate(626,477.5) rotate(18)">
  <ellipse rx="28" ry="21" fill="#fff" stroke-width="4.6"/>
  <ellipse rx="28" ry="21" stroke="#fff" stroke-width="0.7" stroke-dasharray="1.5 3"/>
  <ellipse cx="-1" cy="-0.5" rx="24" ry="17" stroke-width="1"/>
  <ellipse cx="0" cy="2.5" rx="15.5" ry="12.5" stroke-width="1.1"/>
 </g>
 <path d="M614,467 Q612,478 616,488" stroke-width="1"/>
 <path d="M637,483 L650,470 L668,474 L668,502 L642,500 Z" fill="#fff" stroke="none"/>
 <path d="M638,470.5 L706.7,518 M640,475 L706,521.5" stroke-width="1.2"/>
 <!-- bolts on flange -->
 <circle cx="603" cy="463" r="2.2" fill="#fff" stroke-width="1.3"/>
 <circle cx="611" cy="456" r="2" fill="#fff" stroke-width="1.2"/>
 <path d="M638,448 L644,449 L643,454 L637,453 Z" fill="#fff" stroke-width="1.1"/>
 <!-- left bracket -->
 <path d="M579.4,502.6 L587.1,492.3 L593.1,488.9 L597,491 L625.7,510.3 L634,516" stroke-width="1.4"/>
 <path d="M580,507 L587.1,502.6 L606.9,512 L624.9,521.4" stroke-width="1.4"/>
 <path d="M606.9,506 L624.9,518" stroke-width="2.8"/>
 <path d="M589,496 L600,503 L601,509 L590,503 Z" fill="#fff" stroke-width="1.1"/>
 <path d="M582,497 L580,505" stroke-width="2"/>
 <circle cx="626.6" cy="512" r="3.4" fill="#fff" stroke-width="1.3"/>
 <circle cx="626.6" cy="512" r="1.5" stroke-width="0.9"/>
 <!-- lower bracket -->
 <path d="M594,511.1 L600,507 L615,516 L621.4,522 L621,528.3 L608,528 L597,522 Z" fill="#fff" stroke-width="1.3"/>
 <path d="M598,514 L603,525 M596,518 L606,524" stroke-width="1.1"/>
 <path d="M604,522 L616,518 L619,525 L608,529 Z" fill="#fff" stroke-width="1.3"/>
 <ellipse cx="606" cy="526.5" rx="2.6" ry="2.2" fill="#fff" stroke-width="1.3"/>
 <path d="M612,519 L618,516 L620,522 L614,524 Z" fill="#000" stroke-width="0.8"/>
 <path d="M595,515 L597,522 L600,526" stroke-width="2.2"/>
 <!-- extra left bracket density -->
 <path d="M583,501 L588,496 L596,500 L591,506 Z" fill="#000" stroke-width="0.8"/>
 <path d="M596,514 L604,509 L610,513 L603,519 Z" fill="#000" stroke-width="0.8"/>
 <path d="M587,492 L594,487 L600,483" stroke-width="2"/>
 <path d="M600,520 L603,530 M606,521 L609,531" stroke-width="1.6"/>
 <path d="M616,522 L621,519 L624,526 L619,529 Z" fill="#000" stroke-width="0.8"/>
 <path d="M590,509 L598,513" stroke-width="1.8"/>
 <!-- dotted side line going down -->
 <path d="M601.7,532.6 L611.1,547.1 L618,569" stroke-width="2.2"/>
 <path d="M602.5,534 L610.5,546.5 L617,567" stroke="#fff" stroke-width="0.8" stroke-dasharray="1 1.5"/>
 <!-- top rail of box (thick) -->
 <path d="M637,484 L684.3,512.4 L749,558.1 L761,566" stroke-width="2.6"/>
 <path d="M640,481 L687,508 L751,553 L763,561" stroke-width="1.2"/>
 <path d="M643,490 L686,517 L748,562" stroke-width="1"/>
 <path d="M692,516 L745,553" stroke-width="1" stroke-dasharray="1.5 1.5"/>
 <!-- left rail of box -->
 <path d="M636,484 L632.9,516.2 L625.2,539 L619.5,548.6" stroke-width="2.4"/>
 <path d="M644,493 L638.5,517 L631,541 L627,550" stroke-width="1.4"/>
 <path d="M631,492 Q632,481 640,481 Q647,483 646,492" fill="#fff" stroke-width="1.3"/>
 <circle cx="639" cy="486.5" r="1.6" stroke-width="1"/>
 <path d="M638,492 L635,516 L628,538 L622.5,548" stroke-width="1.8" stroke-dasharray="1.2 1.6" stroke="#000"/>
 <!-- bottom rail of box -->
 <path d="M619.5,548.6 L627.1,558.1 L661.4,579 L703.3,605.7 L735.7,630.5 L745.2,630.5" stroke-width="1.6"/>
 <path d="M622,553 L630,561 L663,583 L705,610 L737,633" stroke-width="1.2"/>
 <path d="M626,556 L662,580 L702,607 L734,628" stroke-width="2" stroke-dasharray="1.2 1.8"/>
 <!-- teeth under bottom rail -->
 <g stroke-width="1.1">
  <path d="M617.5,563 l0,4 a1.5,1.5 0 0 0 3,0 l0,-3"/>
  <path d="M624.5,569 l0,4 a1.5,1.5 0 0 0 3,0 l0,-3"/>
  <path d="M631.5,574 l0,4 a1.5,1.5 0 0 0 3,0 l0,-3"/>
  <path d="M639,578 l0,4 a1.5,1.5 0 0 0 3,0 l0,-3"/>
  <path d="M646.5,582 l0,4 a1.5,1.5 0 0 0 3,0 l0,-3"/>
 </g>
 <path d="M655,583 L656,592 Q659,596 663,593 L664,585" fill="#fff" stroke-width="1.2"/>
 <circle cx="659.5" cy="590.5" r="1.6" stroke-width="1"/>
 <circle cx="663.5" cy="580" r="1.8" stroke-width="1"/>
 <circle cx="699" cy="606" r="1.8" stroke-width="1"/>
 <circle cx="734" cy="630" r="1.8" stroke-width="1"/>
 <!-- rail textures -->
 <defs>
  <pattern id="hatch" width="2.4" height="2.4" patternUnits="userSpaceOnUse" patternTransform="rotate(-55)"><rect width="2.4" height="2.4" fill="#fff"/><rect width="1.1" height="2.4" fill="#000"/></pattern>
  <pattern id="dots" width="2.6" height="2.6" patternUnits="userSpaceOnUse" patternTransform="rotate(20)"><rect width="2.6" height="2.6" fill="#222"/><circle cx="1.3" cy="1.3" r="0.75" fill="#fff"/></pattern>
 </defs>
 <path d="M676,504 L749,554.5 L747,560.5 L674,510 Z" fill="url(#hatch)" stroke="none"/>
 <path d="M637.5,492 L632.5,516 L625.5,538.5 L621,547 L625.5,549.5 L630,540 L637,517 L642,494 Z" fill="url(#dots)" stroke="none"/>
 <path d="M758,573 L750,627 L755,629 L763,576 Z" fill="url(#dots)" stroke="none"/>
 <path d="M628,555 L662,578 L702,605 L735,629 L737,626 L704,602 L664,575 L630,552 Z" fill="url(#hatch)" stroke="none"/>
 <!-- box interior lines -->
 <path d="M632.9,539 L686.2,520 M644.3,554.3 L688.1,525.7" stroke-width="1.1"/>
 <path d="M655.7,556.2 L745.2,594.3 M676.7,573.3 L741.4,609.5" stroke-width="1"/>
 <path d="M665.2,542.9 Q685,546 703.3,543.8 L693.8,527.6" stroke-width="1"/>
 <path d="M650,557 Q660,560 664,553 L666,545" stroke-width="1"/>
 <path d="M648,522 L641.5,536 M656,512 Q650,525 648,535" stroke-width="1"/>
 <!-- right rail / leg (dark) -->
 <path d="M760.5,561.9 L752.9,573.3 L745.2,630.5" stroke-width="2"/>
 <path d="M766,565 L757,578 L749,632" stroke-width="1.4"/>
 <path d="M756,576 L748,628" stroke-width="2.4" stroke-dasharray="1.3 1.6"/>
 <path d="M751.4,568.6 L763,566 M782.7,585.9 L763.9,639.2" stroke-width="1.4"/>
 <path d="M770,582 L758,635 M776,584 L762,636" stroke-width="1.1"/>
 <path d="M752,590 L760,592 L758,600 L750,598 Z M749,608 L757,610 L755,618 L747,616 Z" fill="#000" stroke-width="0.8"/>
 <path d="M760,595 l4,1 l-1,5 l-4,-1 z M757,612 l4,1 l-1,5 l-4,-1 z M763,580 l4,1 l-1,5 l-4,-1 z" fill="#000" stroke-width="0.6"/>
 <path d="M769,590 l3,-1.5 M768,596 l3,-1.5 M767,602 l3,-1.5 M766,608 l3,-1.5 M765,614 l3,-1.5" stroke-width="1.4"/>
 <!-- sensor 18 at bottom -->
 <path d="M745,632 Q744,645 738,652 L733,656 L729,658" stroke-width="1.2"/>
 <path d="M752,636 Q750,648 742,655 L735,659" stroke-width="1.2"/>
 <path d="M729,654 L736,652 L737,658 L730,661 Z" fill="#000" stroke-width="0.8"/>
 <path d="M727.5,659 l3,-1" stroke-width="1.6"/>
 <!-- boss lower right -->
 <circle cx="782.7" cy="571.8" r="9" fill="#fff" stroke-width="1.4"/>
 <circle cx="783.5" cy="571.5" r="5.6" stroke-width="1.1"/>
 <circle cx="784" cy="571" r="2.8" stroke-width="1"/>
 <!-- boss upper left -->
 <circle cx="661" cy="478.5" r="9" fill="#fff" stroke-width="1.4"/>
 <circle cx="662" cy="478.5" r="5.8" stroke-width="1.1"/>
 <circle cx="662.5" cy="478" r="3" stroke-width="1"/>
 <path d="M668,469 L676,462 L684,468 L675,476" stroke-width="1.1"/>
 <circle cx="672" cy="493" r="2.2" stroke-width="1"/>
 <circle cx="675" cy="500" r="2.2" stroke-width="1"/>
 <path d="M668,487 L680,487 L679,504 L669,503 Z" stroke-width="1"/>
 <!-- tube in middle -->
 <path d="M700,478 L711,480 L709,497 L699,496 Z" fill="#fff" stroke-width="1.1"/>
 <ellipse cx="705.5" cy="479" rx="5.5" ry="2.8" fill="#fff" stroke-width="1.1"/>
 <path d="M704,497 L716,500 L718,492 L722,488" stroke-width="1"/>
 <path d="M690,485 L697,483 L698,492 M714,482 L726,476 L731,481" stroke-width="1.1"/>
 <path d="M722,485 Q732,486 742,494 L748,501" stroke-width="1.1"/>
 <!-- port ring -->
 <circle cx="752" cy="482" r="12.5" fill="#fff" stroke-width="1.5"/>
 <circle cx="752" cy="482" r="10" stroke-width="1.1"/>
 <ellipse cx="751" cy="482.5" rx="5.5" ry="7.5" stroke-width="1.4"/>
 <path d="M742,493 Q752,500 764,489" stroke-width="1.1"/>
 <path d="M744,495 L745,502 Q752,507 760,502 L763,493" stroke-width="1.1"/>
 <!-- right internal components -->
 <!-- top band lines -->
 <path d="M770.7,478 L793.3,488.7 L822.7,504.7 L844,518 L856,528.7 L865.3,539.3 L868,550" stroke-width="1.1"/>
 <path d="M770.7,484.7 L790.7,496.7 L820,510 L841.3,523.3 L852,532.7 L860,542" stroke-width="1.1"/>
 <path d="M786.7,480.7 L784,486.7 M797.3,483.3 L794.7,490 M806.7,495.3 L804,500.7 M820,500.7 L817.3,506 M830.7,507.3 L828,512.7 M841.3,514 L838.7,519.3 M851,521 L848,526 M858,528 L854,532" stroke-width="1.1"/>
 <path d="M816,498 L821,503 L818,506 L813,501 Z M827,514 L833,519 L830,522 L824,517 Z M836,521 L841,527 L838,530 L833,525 Z" fill="#000" stroke-width="0.8"/>
 <!-- sensor 12 box -->
 <path d="M760,500.7 L785.3,500.7 L785.3,514 L760,514 Z" fill="#fff" stroke-width="1.2"/>
 <path d="M779,503 L775,507" stroke-width="1"/>
 <path d="M780,514 L793.3,514 L793.3,526 L780,526 Z" fill="#000" stroke-width="1"/>
 <path d="M788,500.7 L789,520 M792,501 L793,519" stroke-width="2"/>
 <path d="M744,515.3 L758,512 L773.3,518 L773.3,532.7 L760,534 L744,528 Z" fill="#000" stroke-width="1.1"/>
 <path d="M746,517 L756,515 L756,525 L746,527 Z" fill="#fff" stroke-width="0.8"/>
 <path d="M758,521 L771,521 L771,530 L758,530 Z" fill="#fff" stroke-width="0.8"/>
 <circle cx="765" cy="524.5" r="0.8" fill="#000"/>
 <path d="M757,534 L758,545 L765,548 L766,540" stroke-width="1.3"/>
 <path d="M760,536 Q763,540 767,537" stroke-width="2"/>
 <!-- interior rail -->
 <path d="M801.3,512.7 L841.3,534 M803,518 L842,538" stroke-width="1.1"/>
 <path d="M802.7,514 L815,516 L815,523 L803,522 Z" fill="#000" stroke-width="0.8"/>
 <path d="M825,518 L835,520 L838,527 L829,528 Z" fill="#000" stroke-width="0.8"/>
 <!-- bolts -->
 <circle cx="810.7" cy="527.3" r="2.8" fill="#fff" stroke-width="1.5"/>
 <circle cx="824" cy="536.7" r="3.2" fill="#fff" stroke-width="1.6"/>
 <path d="M809.5,533 L808,544" stroke-width="2.6"/>
 <path d="M822.5,541 L818,552" stroke-width="2.6"/>
 <circle cx="819" cy="529" r="1.4" stroke-width="1"/>
 <circle cx="842" cy="536" r="1.8" stroke-width="1"/>
 <path d="M846.7,540 L850,548 L846,553 L842,548 Z" stroke-width="1.1"/>
 <path d="M840,555 L848,548" stroke-width="1.1"/>
 <!-- bottom lines -->
 <path d="M773.3,540.7 L809.3,540.7 M786.7,550 L809.3,540.7" stroke-width="1"/>
 <path d="M796,556.7 L833.3,558 M793.3,563.3 L822.7,560.7" stroke-width="1"/>
 <path d="M800,548 L806,546 L808,552 L802,555 Z" fill="#fff" stroke-width="1.1"/>
 <path d="M801,553 l5,-2" stroke-width="1.6"/>
 <path d="M760,552.7 L784,556 L783,563.3 L760,560 Z" stroke-width="1.2"/>
 <path d="M762,555 L781,558" stroke-width="1"/>
 <path d="M754,564 L765,562 L767,575 L755,578 Z" fill="#000" stroke-width="1"/>
 <!-- right end flange -->
 <path d="M850,545 Q850,535 857,533 Q866,535 872,548 Q875,556 870,561 L864,562" fill="#fff" stroke-width="1.2"/>
 <circle cx="860" cy="550" r="3" stroke-width="1.3"/>
 <circle cx="860" cy="550" r="1.3" stroke-width="0.9"/>
 <circle cx="865.3" cy="556.7" r="2.2" stroke-width="1.1"/>
 <path d="M846,523 L852,530 L848,535 L843,529 Z" stroke-width="1"/>
 <!-- bits under right section -->
 <path d="M790,565 L800,565 L806,571 L794,577" stroke-width="1.1"/>
 <path d="M812,572 L816,580 L811,587 M814,576 L820,574" stroke-width="1.3"/>
 <path d="M805,581 L813,574" stroke-width="1"/>
 <path d="M795,580 L827,560" stroke-width="1"/>
 <!-- little items near left top -->
 <path d="M598,467 L596,472" stroke-width="1.4"/>
</g>
<!-- sensor group 13/14 -->
<g stroke="#000" fill="none" stroke-linejoin="round" stroke-linecap="round">
 <path d="M882.3,508.3 L906.3,517 L899,532.3 L886.3,525.7 L878,516" fill="#fff" stroke-width="1.3"/>
 <path d="M888,528 L891,522 L897,526 L896,531 Z" stroke-width="1.1"/>
 <circle cx="881.3" cy="513" r="3.6" fill="#fff" stroke-width="2.2"/>
 <path d="M879.5,512 Q881,514.5 883,512.5" stroke-width="1.4"/>
 <circle cx="889.7" cy="513.7" r="1.9" stroke-width="1.3"/>
 <circle cx="894" cy="522.3" r="4" fill="#fff" stroke-width="2.2"/>
 <path d="M891.5,523 L893,527 L896,524" stroke-width="1.8"/>
 <path d="M889,508 L890,506" stroke-width="1.6"/>
 <circle cx="913.7" cy="520.3" r="2.6" fill="#999" stroke="#333" stroke-width="1.2"/>
 <path d="M914,524 L916,528 M912,525 L918,527" stroke-width="1.2"/>
 <path d="M896.3,534.3 L907.7,543.7" stroke-width="1.2"/>
 <path d="M907.7,543 L914.3,531 L920.3,533.7 L921.7,541.7 L915.7,547 L909,547.5 Z" fill="#fff" stroke-width="1.4"/>
 <path d="M914.3,531 L910,544 M914.5,533 L920,534.5" stroke-width="1"/>
 <path d="M912,544 L919,541 L920,546 L914,548 Z" fill="#000" stroke-width="1"/>
 <path d="M914,548 L913,550 M917,547 L919,549" stroke-width="1.2"/>
 <path d="M921.7,534 L921.7,541" stroke-width="1.1"/>
</g>
<!-- sensor 16 -->
<g stroke="#000" fill="none" stroke-linejoin="round" stroke-linecap="round">
 <path d="M897,676 Q902,674.5 906.5,675.5 L906,681 L909.5,688 L907,696 L903,702 L898,704.5 Z" fill="#fff" stroke-width="1.5"/>
 <path d="M903,690 L906,688 M902,695 L905,693 M906,683 L904,696" stroke-width="1.2"/>
 <path d="M884,681 L897,681 L901,690 L900,700 L895,704 L888,704 L884,698 Z" fill="#000" stroke-width="1"/>
 <path d="M888,694.5 L892,693.5 M893,695 L897,694" stroke="#fff" stroke-width="1.2"/>
 <ellipse cx="889.7" cy="700.5" rx="3.4" ry="2.2" fill="#fff" stroke-width="1.4"/>
 <path d="M876,673.6 L894.3,680.4 L892,690.1 L870.3,686.7 L871,680 Z" fill="#fff" stroke-width="1.7"/>
 <path d="M872,682.7 L891.5,686.5" stroke-width="1.3"/>
 <circle cx="876.5" cy="679" r="0.9" fill="#000"/>
 <path d="M887.4,681 L899.4,682.5 L898.5,689 L886.5,688 Z" fill="#fff" stroke-width="1.3"/>
 <path d="M887,685 L890,690 L893,689" stroke-width="1"/>
</g>
<!-- hose 24 -->
<g fill="none" stroke-linejoin="round" stroke-linecap="round">
 <path id="h24" d="M188,903 Q186.3,891.4 188,886 Q190,880 194,877 L210.4,867.3 L219.1,858.6 L232.3,847.6 L252,836.7 Q258,833.5 263,832.3 Q269,831.5 273.9,833.4 Q279,836 282.7,843.2 L295.8,854.2 Q302,860 304.6,867.3 L304.6,882.7 Q306,891 313.3,893.6 Q322,894.5 335.2,889.2 L357.2,887.1 L366,889" stroke="#000" stroke-width="7"/>
 <path d="M188,903 Q186.3,891.4 188,886 Q190,880 194,877 L210.4,867.3 L219.1,858.6 L232.3,847.6 L252,836.7 Q258,833.5 263,832.3 Q269,831.5 273.9,833.4 Q279,836 282.7,843.2 L295.8,854.2 Q302,860 304.6,867.3 L304.6,882.7 Q306,891 313.3,893.6 Q322,894.5 335.2,889.2 L357.2,887.1 L366,889" stroke="#fff" stroke-width="4.6"/>
 <g stroke="#000" stroke-width="1">
  <path d="M213,863 l2,4 M216,860 l2,4 M224,852 l2,4 M236,843 l2,4 M246,838 l2,4 M276,832 l-3,3 M280,838 l-3,3 M284,842 l-3,3 M290,846 l-3,3 M296,852 l-3,3 M302,860 l-4,1.5 M307,872 l-5,0 M307,876 l-5,0 M330,888 l1,4.5 M342,886 l0.5,4.5 M345,886 l0.5,4.5"/>
 </g>
 <!-- left connector -->
 <path d="M181,897 L194,895 L198,905 L200,913 L194,917 L186,916 L182,908 Z" fill="#fff" stroke="#000" stroke-width="1.3"/>
 <path d="M182,901 L195,899 M183,905 L197,903 M184,909 L198,907 M185,913 L198,911" stroke="#000" stroke-width="1.3"/>
 <path d="M194,903 L202,902 Q205,906 202,912 L197,913" fill="#fff" stroke="#000" stroke-width="1.2"/>
 <path d="M180,893 L185,890 L186,895" stroke="#000" stroke-width="1.2"/>
 <!-- right connector -->
 <g transform="translate(369,894) rotate(45)">
  <rect x="-7" y="-5" width="7" height="10" rx="1.5" fill="#000" stroke="#000" stroke-width="1"/>
  <path d="M-5,-5 L-5,5 M-2.5,-5 L-2.5,5" stroke="#fff" stroke-width="0.8"/>
  <rect x="0" y="-6" width="11" height="12" rx="2" fill="#fff" stroke="#000" stroke-width="1.5"/>
  <path d="M3,-6 L3,6 M5.5,-6 L5.5,6" stroke="#000" stroke-width="1.6"/>
  <ellipse cx="11" cy="0" rx="2.6" ry="5.6" fill="#fff" stroke="#000" stroke-width="1.4"/>
  <ellipse cx="11" cy="0" rx="1.3" ry="2.8" fill="none" stroke="#000" stroke-width="1"/>
 </g>
</g>
<!-- bolt 25 -->
<use href="#b23" transform="translate(234,877.5) rotate(-40)"/>
<!-- valve 26/27 -->
<g stroke="#000" fill="none" stroke-linejoin="round" stroke-linecap="round">
 <!-- dome body -->
 <path d="M263.5,879 Q266,871 272.7,869.8 Q284,869 290,877 Q293,884 291,889 Q288,895 283.3,895.7 Q275,897 268,892 Q263,886 263.5,879 Z" fill="#000" stroke-width="1.2"/>
 <path d="M268,876 Q276,873 283,880 M267,881 Q276,877 286,885 M268,886 Q277,882 287,890 M272,891 Q279,888 284,893" stroke="#fff" stroke-width="1.3"/>
 <!-- top cap -->
 <path d="M259.5,862 Q262,858.5 267,859 Q272,861 272,866 L270,870 L262,870 Q259,867 259.5,862 Z" fill="#fff" stroke-width="1.8"/>
 <ellipse cx="265" cy="864" rx="3" ry="2.2" stroke-width="1.2"/>
 <!-- vertical tube -->
 <path d="M255.2,872 L262.8,870.5 L264.3,891 L257,893 Z" fill="#fff" stroke-width="1.4"/>
 <ellipse cx="259" cy="871.3" rx="3.9" ry="2" fill="#fff" stroke-width="1.4"/>
 <!-- left cylinder -->
 <path d="M242,884 L252,881 L258.2,898 L248,902 Z" fill="#000" stroke-width="1.2"/>
 <path d="M246,883 L252,899 M249,882 L255,899" stroke="#fff" stroke-width="0.7"/>
 <ellipse cx="242.5" cy="891" rx="4" ry="7" transform="rotate(-20 242.5 891)" fill="#fff" stroke-width="1.5"/>
 <path d="M255,884 L259,883 L261,893 L257,895" fill="#fff" stroke-width="1.2"/>
 <!-- connection body -->
 <path d="M259,891 L272,893 L276,899 L271,905 L261,902 Z" fill="#fff" stroke-width="1.3"/>
 <path d="M262,895 L271,897" stroke-width="1"/>
 <!-- flange ring -->
 <path d="M271,897 Q276,894 282,896 L289.4,903 Q290,908 285,913 Q280,916 276,914 L271.5,906 Z" fill="#fff" stroke-width="1.5"/>
 <path d="M274,898 L279,911 M277,897 L283,912" stroke-width="1.6"/>
 <!-- right cylinder -->
 <path d="M282,903 L291,899 L298.6,912 L290,919 Z" fill="#000" stroke-width="1.2"/>
 <path d="M286,905 L293,901 M288,909 L295,905 M290,913 L297,909" stroke="#fff" stroke-width="1"/>
 <path d="M296,910 Q299,913 297,917" stroke="#fff" stroke-width="0.8"/>
</g>
<!-- pump 28 -->
<g stroke="#000" fill="none" stroke-linejoin="round" stroke-linecap="round">
 <!-- base disk -->
 <path d="M364.7,1008 Q365,1004 372,1003 L396,1001 Q401.5,1002 401.2,1008 Q400,1014 392,1015.6 L376,1016 Q366,1014.5 364.7,1008 Z" fill="#fff" stroke-width="2.2"/>
 <path d="M366,1007.5 Q380,1013 400,1006" stroke-width="1.2"/>
 <path d="M373.5,1008 L374,1015 M387,1007 L388,1015" stroke-width="1"/>
 <!-- lower cylinder -->
 <path d="M378.2,995 L395.9,992 L398.8,1005 Q390,1010 380,1008 Z" fill="#fff" stroke-width="1.5"/>
 <path d="M391.5,994 L394,1007" stroke-width="1"/>
 <!-- left lower part -->
 <path d="M364.1,991 L376,989 L379,1006 L367,1008 Z" fill="#fff" stroke-width="1.5"/>
 <path d="M365.5,994 L376,993 M366,997 L377,996" stroke-width="1.6"/>
 <path d="M367,999 L377,998 L378,1004 L368,1005 Z" fill="#000" stroke-width="1"/>
 <circle cx="371" cy="1001.5" r="1.2" fill="#fff"/>
 <!-- middle dark band -->
 <path d="M367.6,986 Q372,981.5 380,981.5 L392,981 Q396,985 395.9,990 Q392,995 380,996 Q370,995 367.6,990 Z" fill="#000" stroke-width="1.2"/>
 <path d="M371,985 Q378,981 386,984" stroke="#fff" stroke-width="1.2"/>
 <path d="M384,986 Q390,984 394,986" stroke="#fff" stroke-width="1"/>
 <!-- upper cylinder -->
 <path d="M376,968 L377,983 Q384,986 392,982 L391,968 Z" fill="#fff" stroke-width="1.6"/>
 <path d="M378,967 Q380,965 384,965.5 L390,966 Q391.5,968 390,970 L379,971 Q377,970 378,967 Z" fill="#fff" stroke-width="1.6"/>
 <path d="M380,972 L381,980 M383,972 L384,979" stroke-width="1.6"/>
 <path d="M378,978 L391,976" stroke-width="1"/>
 <!-- left connector -->
 <path d="M356,976 Q355,968 361,966.2 Q366,966 367,972 L368.2,986 L362,989 Q357,986 356,976 Z" fill="#000" stroke-width="1.2"/>
 <path d="M358.5,969 L363,968 M358,974 L364,972 M359,979 L366,977 M360,983 L366,982" stroke="#fff" stroke-width="1.1"/>
 <!-- bottom stub -->
 <path d="M376,1015 L376.5,1021 Q380,1023 384,1021 L384,1015" fill="#fff" stroke-width="1.6"/>
</g>
<!-- valve 30 -->
<g stroke="#000" fill="none" stroke-linejoin="round" stroke-linecap="round">
 <!-- bottom tube -->
 <path d="M459,1040 L482.7,1063.3" stroke="#000" stroke-width="8"/>
 <path d="M459,1040 L482.7,1063.3" stroke="#fff" stroke-width="5.6"/>
 <path d="M467.5,1052 l5,-5 M469,1054 l5,-5" stroke-width="2"/>
 <ellipse cx="482.2" cy="1062.8" rx="4" ry="2.8" transform="rotate(-45 482.2 1062.8)" fill="#fff" stroke-width="1.3"/>
 <!-- bottom-left small tube -->
 <path d="M430,1027 L454,1050" stroke="#000" stroke-width="7"/>
 <path d="M430,1027 L454,1050" stroke="#fff" stroke-width="4.6"/>
 <path d="M446,1043 l3.5,-3.5 M449,1046 l3.5,-3.5" stroke-width="1.2"/>
 <ellipse cx="454" cy="1050.5" rx="2.8" ry="2.2" fill="#fff" stroke-width="1.2"/>
 <!-- right connector -->
 <path d="M466,1015 L476,1010 L490,1030 L488,1038 L480,1040 L466,1028 Z" fill="#fff" stroke-width="1.4"/>
 <path d="M470,1020 L479,1015 M474,1025 L484,1020 M478,1030 L487,1026 M481,1035 L489,1031" stroke-width="1.4"/>
 <path d="M476,1010 L490,1030" stroke-width="2"/>
 <path d="M480,1028 l4,-2 l2,3 l-4,2 z M484,1034 l4,-2 l2,3 l-4,2 z" fill="#000"/>
 <g transform="translate(451.4,1008) rotate(57)">
  <!-- top-left tube -->
  <rect x="-37" y="-3" width="24" height="6" rx="3" fill="#fff" stroke-width="1.5"/>
  <path d="M-25,-3 L-25,3 M-22,-3 L-22,3" stroke-width="1.8"/>
  <!-- cylinder between rings -->
  <rect x="-12" y="-9.5" width="12" height="19" fill="#fff" stroke-width="1.3"/>
  <ellipse cx="-12" cy="0" rx="3" ry="10" fill="#fff" stroke-width="1.6"/>
  <path d="M-8,-9.5 L-8,9.5" stroke-width="1"/>
  <!-- body after ring2 -->
  <path d="M0,-13 L26,-11 L32,-6 L32,8 L24,13 L0,14 Z" fill="#fff" stroke-width="1.4"/>
  <path d="M6,-12 L6,13 M14,-11 L14,12" stroke-width="1.1"/>
  <path d="M8,-6 L13,-6 L13,2 L8,2 Z" fill="#000" stroke-width="1"/>
  <path d="M16,4 L24,4 L24,10 L16,10 Z" fill="#000" stroke-width="1"/>
  <path d="M17,-9 L27,-8 M18,-3 L30,-2" stroke-width="1.6"/>
  <path d="M3,5 L10,6 L9,12 L3,11 Z" fill="#000" stroke-width="1"/>
  <circle cx="20" cy="-3" r="3" fill="#fff" stroke-width="1.3"/>
  <!-- ring2 -->
  <ellipse cx="0" cy="0" rx="4" ry="14.5" fill="#fff" stroke-width="2"/>
  <ellipse cx="0" cy="0" rx="2.2" ry="12.5" stroke-width="1"/>
 </g>
 <path d="M428,1013 L440,1004 L452,1018 L460,1036 L452,1044 L440,1040 L429,1028 Q426,1020 428,1013 Z" fill="#fff" stroke-width="1.5"/>
 <path d="M428,1017 L435,1013 L437,1020 L431,1024 Z" fill="#000" stroke-width="1"/>
 <path d="M433,1026 L440,1022 L444,1030 L437,1034 Z" fill="#000" stroke-width="1"/>
 <path d="M441,1016 L450,1032 M446,1012 L456,1030" stroke-width="1.2"/>
 <path d="M444,1038 L452,1034 L456,1040" stroke-width="1.4"/>
 <path d="M450,1026 l5,-2 l2,4 l-5,2 z" fill="#000"/>
</g>
<!-- hose 31 -->
<g fill="none" stroke-linejoin="round" stroke-linecap="butt">
 <path d="M393.1,1027 L394.9,1037.1 Q397,1043 401.7,1045.7 L417.1,1052.6 L436,1056 Q444,1058 446.3,1062.9 Q447,1070 442.9,1074.9 L432.6,1081.7 L428,1085" stroke="#000" stroke-width="9.4"/>
 <path d="M393.1,1027 L394.9,1037.1 Q397,1043 401.7,1045.7 L417.1,1052.6 L436,1056 Q444,1058 446.3,1062.9 Q447,1070 442.9,1074.9 L432.6,1081.7 L428,1085" stroke="#fff" stroke-width="7"/>
 <g stroke="#000" stroke-width="1">
  <path d="M390,1038 l8,-2 M394,1044 l6,-5 M401,1050 l3,-8 M407,1053 l3,-8 M413,1055 l3,-8 M421,1057.5 l1.5,-8.5 M432,1060 l1,-8.5 M440,1064 l6,-5 M438,1071 l8,2 M435,1077 l7,4 M430,1080 l5,6"/>
 </g>
 <ellipse cx="393" cy="1026.5" rx="4.4" ry="3" fill="#fff" stroke="#000" stroke-width="1.2"/>
 <ellipse cx="393" cy="1026.5" rx="2.2" ry="1.4" stroke="#000" stroke-width="0.9"/>
 <ellipse cx="427" cy="1086" rx="4" ry="3" transform="rotate(30 427 1086)" fill="#fff" stroke="#000" stroke-width="1.2"/>
 <path d="M421,1072 L426,1076 L424,1079 L420,1076 Z" fill="#000" stroke="#000" stroke-width="1"/>
 <path d="M424,1076 l4,2" stroke="#000" stroke-width="1.4"/>
</g>

</svg>
</body></html>
